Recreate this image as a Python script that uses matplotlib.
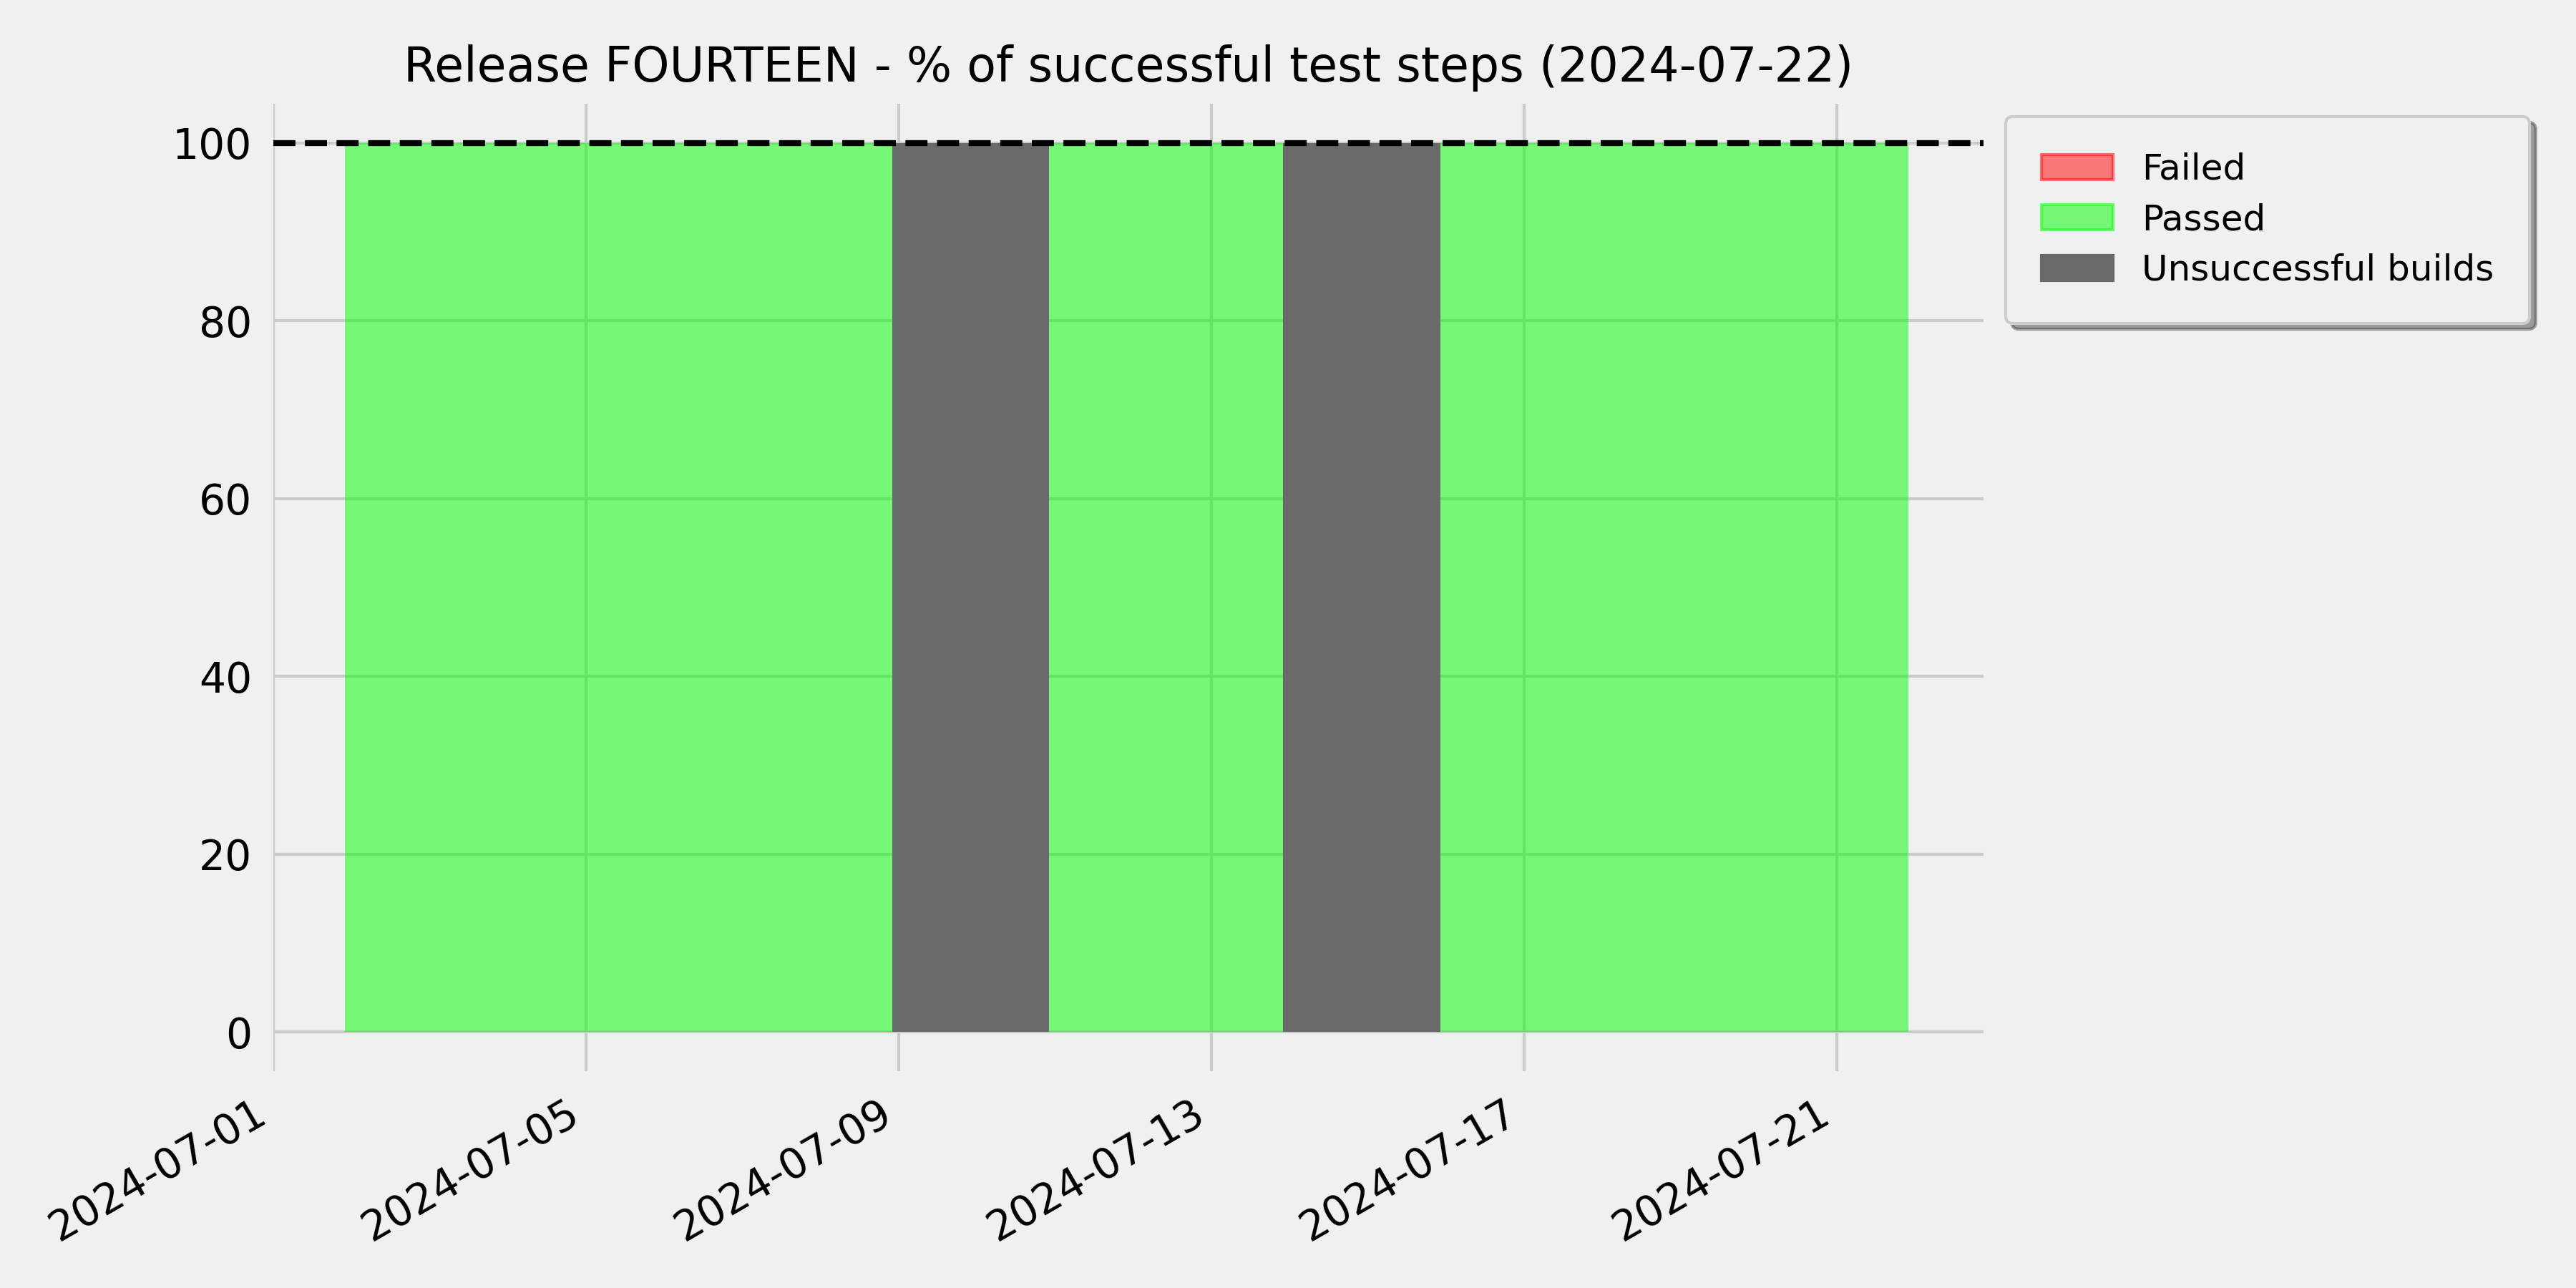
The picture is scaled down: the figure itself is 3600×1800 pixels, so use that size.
import pandas as pd
import matplotlib
matplotlib.use("Agg")
import matplotlib.pyplot as plt
import matplotlib.dates as mdates
from matplotlib.patches import Patch

# daily test results (% of steps), timestamps as they come from the CI
run_dates = pd.date_range("2024-07-01 22:00", "2024-07-21 22:00", freq="D")
passed = [100, 100, 100, 100, 100, 100, 100, 100, 100, 100, 100,
          100, 100, 100, 100, 100, 100, 100, 100, 100, 100]
failed = [0, 0, 0, 0, 0, 0, 0, 0, 0, 0, 0,
          0, 0, 0, 0, 0, 0, 0, 0, 0, 0]

# days on which the build itself broke
unsuccessful_dates = pd.to_datetime(["2024-07-08 22:00", "2024-07-09 22:00",
                                     "2024-07-13 22:00", "2024-07-14 22:00"])
unsuccessful_height = [100, 100, 100, 100]

release = "FOURTEEN"
report_date = "2024-07-22"

plt.rcParams["font.family"] = "DejaVu Sans"
plt.rcParams["font.size"] = 14

fig = plt.figure(figsize=(12, 6), dpi=300, facecolor="#f0f0f0")
ax = fig.add_axes([0.106, 0.1683, 0.664, 0.7511])
ax.set_facecolor("#f0f0f0")
ax.set_axisbelow(True)
ax.grid(True, color="#cbcbcb", linewidth=1.0, linestyle="-")
for s in ax.spines.values():
    s.set_visible(False)

ax.stackplot(run_dates, passed, failed,
             colors=["lime", "red"], alpha=0.5)
ax.bar(unsuccessful_dates, unsuccessful_height, width=1.01, align="edge",
       color="dimgray", linewidth=0, zorder=3)
ax.axhline(100, color="black", linestyle="--", linewidth=2, zorder=4)

ax.set_xlim(pd.Timestamp("2024-07-01"), pd.Timestamp("2024-07-22 21:00"))
ax.set_ylim(-4.4, 104.4)
ax.set_yticks([0, 20, 40, 60, 80, 100])
ax.xaxis.set_major_locator(mdates.DayLocator(bymonthday=[1, 5, 9, 13, 17, 21]))
ax.xaxis.set_major_formatter(mdates.DateFormatter("%Y-%m-%d"))
ax.tick_params(axis="both", length=0, pad=7, labelsize=14)
for lbl in ax.get_xticklabels():
    lbl.set_rotation(30)
    lbl.set_ha("right")

ax.set_title("Release %s - %% of successful test steps (%s)" % (release, report_date),
             fontsize=16, pad=7.5)

handles = [Patch(facecolor="red", edgecolor="red", alpha=0.5, label="Failed"),
           Patch(facecolor="lime", edgecolor="lime", alpha=0.5, label="Passed"),
           Patch(facecolor="dimgray", edgecolor="dimgray", label="Unsuccessful builds")]
leg = ax.legend(handles=handles, loc="upper left", bbox_to_anchor=(1.013, 0.987),
                borderaxespad=0, fontsize=12, shadow=True, fancybox=True,
                borderpad=1.0, labelspacing=0.45)
leg.get_frame().set_facecolor("#f0f0f0")
leg.get_frame().set_edgecolor("#cccccc")

fig.savefig("out.png", dpi=300, facecolor="#f0f0f0")
